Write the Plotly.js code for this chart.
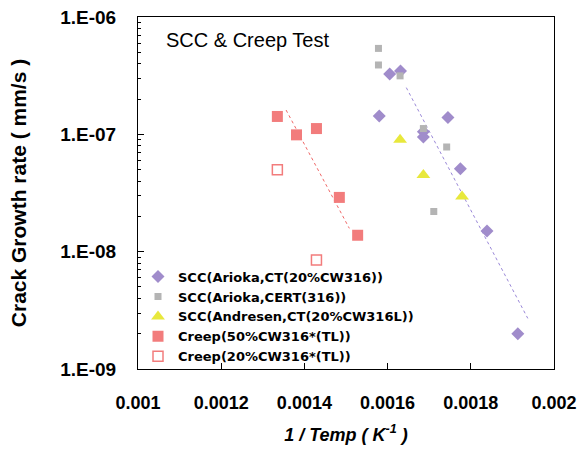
<!DOCTYPE html>
<html>
<head>
<meta charset="utf-8">
<script src="https://cdn.plot.ly/plotly-3.0.1.min.js"></script>
<style>html,body{margin:0;padding:0;background:#fff;}#chart{width:582px;height:456px;}</style>
</head>
<body>
<div id="chart"></div>
<script>
// ---- data ----
var seriesNames = [
  "SCC(Arioka,CT(20%CW316))",
  "SCC(Arioka,CERT(316))",
  "SCC(Andresen,CT(20%CW316L))",
  "Creep(50%CW316*(TL))",
  "Creep(20%CW316*(TL))"
];
var sccAriokaCT_x = [0.00158, 0.001605, 0.001631, 0.001686, 0.001686, 0.001745, 0.001775, 0.001839, 0.001913];
var sccAriokaCT_y = [1.43e-7, 3.27e-7, 3.47e-7, 1.05e-7, 9.5e-8, 1.39e-7, 5.1e-8, 1.5e-8, 2.0e-9];
var sccAriokaCERT_x = [0.001578, 0.001578, 0.00163, 0.001686, 0.001742, 0.001711];
var sccAriokaCERT_y = [5.4e-7, 3.9e-7, 3.15e-7, 1.12e-7, 7.8e-8, 2.2e-8];
var sccAndresen_x = [0.00163, 0.001686, 0.001779];
var sccAndresen_y = [9.0e-8, 4.5e-8, 2.95e-8];
var creep50_x = [0.001335, 0.001381, 0.001429, 0.001484, 0.001528];
var creep50_y = [1.42e-7, 9.9e-8, 1.12e-7, 2.9e-8, 1.38e-8];
var creep20_x = [0.001335, 0.001429];
var creep20_y = [5.0e-8, 8.5e-9];
var trendCreep_x = [0.001356, 0.001508];
var trendCreep_y = [1.61e-7, 1.58e-8];
var trendSCC_x = [0.001645, 0.001937];
var trendSCC_y = [2.5e-7, 2.7e-9];
var xTickVals = [0.001, 0.0012, 0.0014, 0.0016, 0.0018, 0.002];
var xTickText = ["0.001", "0.0012", "0.0014", "0.0016", "0.0018", "0.002"];
var yTickVals = [1e-9, 1e-8, 1e-7, 1e-6];
var yTickText = ["1.E-09", "1.E-08", "1.E-07", "1.E-06"];
var chartTitle = "SCC & Creep Test";
var xTitle = "<b><i>1 / Temp ( K<sup>-1</sup> )</i></b>";
var yTitle = "<b>Crack Growth rate ( mm/s )</b>";

// minor tick positions on the log axis (2..9 in each decade)
var yMinor = [];
for (var d = -9; d < -6; d++) {
  for (var m = 2; m <= 9; m++) yMinor.push(m * Math.pow(10, d));
}

var purple = "#A08CCB", gray = "#B4B4B4", yellow = "#E8E83C", red = "#F27C7C";

var traces = [
  {x: trendCreep_x, y: trendCreep_y, mode: "lines", showlegend: false, hoverinfo: "skip",
   line: {color: "#F06868", width: 1, dash: "dot"}},
  {x: trendSCC_x, y: trendSCC_y, mode: "lines", showlegend: false, hoverinfo: "skip",
   line: {color: "#9A88D8", width: 1, dash: "dot"}},
  {name: seriesNames[0], x: sccAriokaCT_x, y: sccAriokaCT_y, mode: "markers", type: "scatter",
   marker: {symbol: "diamond", size: 10, color: purple}},
  {name: seriesNames[1], x: sccAriokaCERT_x, y: sccAriokaCERT_y, mode: "markers", type: "scatter",
   marker: {symbol: "square", size: 7, color: gray}},
  {name: seriesNames[2], x: sccAndresen_x, y: sccAndresen_y, mode: "markers", type: "scatter",
   marker: {symbol: "triangle-up", size: 12, color: yellow}},
  {name: seriesNames[3], x: creep50_x, y: creep50_y, mode: "markers", type: "scatter",
   marker: {symbol: "square", size: 11, color: red}},
  {name: seriesNames[4], x: creep20_x, y: creep20_y, mode: "markers", type: "scatter",
   marker: {symbol: "square-open", size: 10, color: red, line: {width: 1.5, color: red}}}
];

var layout = {
  width: 582, height: 456,
  margin: {l: 138, r: 28, t: 17, b: 87, pad: 0},
  paper_bgcolor: "#fff", plot_bgcolor: "#fff",
  font: {family: "Arial, 'Liberation Sans', sans-serif", color: "#000"},
  showlegend: true,
  legend: {x: 0.0, y: 0.305, xanchor: "left", yanchor: "top", bgcolor: "rgba(0,0,0,0)",
           font: {family: "'DejaVu Sans', sans-serif", size: 13, weight: "bold", color: "#000"},
           itemwidth: 30, tracegroupgap: 0},
  xaxis: {range: [0.001, 0.002], tickmode: "array", tickvals: xTickVals, ticktext: xTickText,
          ticks: "inside", ticklen: 6, tickcolor: "#000", showgrid: false, zeroline: false,
          showline: true, linecolor: "#000", linewidth: 1, mirror: true,
          tickfont: {size: 18, weight: "bold"}, ticklabelstandoff: 17,
          title: {text: xTitle, font: {size: 18}, standoff: 16}},
  yaxis: {type: "log", range: [-9, -6], tickmode: "array", tickvals: yTickVals, ticktext: yTickText,
          ticks: "inside", ticklen: 6, tickcolor: "#000", showgrid: false, zeroline: false,
          showline: true, linecolor: "#000", linewidth: 1, mirror: true,
          minor: {tickmode: "array", tickvals: yMinor, ticks: "inside", ticklen: 3, tickcolor: "#000", showgrid: false},
          tickfont: {size: 19, weight: "bold"}, ticklabelstandoff: 17,
          title: {text: yTitle, font: {size: 21}, standoff: 27}},
  annotations: [
    {text: chartTitle, xref: "paper", yref: "paper", x: 0.062, y: 0.935, xanchor: "left", yanchor: "middle",
     showarrow: false, font: {size: 20, color: "#000"}}
  ]
};

Plotly.newPlot("chart", traces, layout, {displayModeBar: false, staticPlot: true});
</script>
</body>
</html>
